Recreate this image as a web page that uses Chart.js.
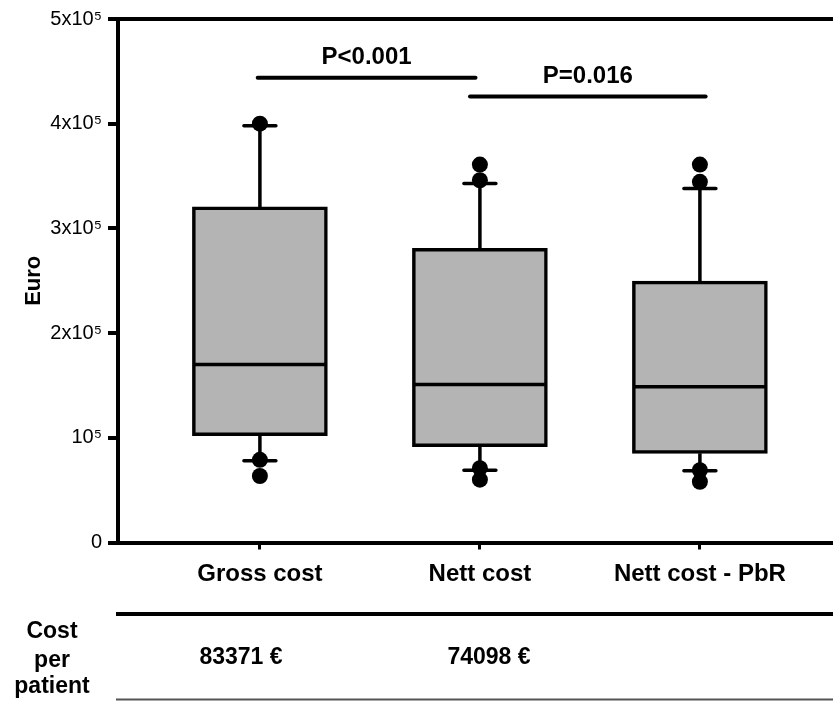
<!DOCTYPE html>
<html>
<head>
<meta charset="utf-8">
<script src="https://cdn.jsdelivr.net/npm/chart.js@4.4.1/dist/chart.umd.min.js"></script>
<style>
  html, body { margin: 0; padding: 0; background: #fff; }
  #wrap { width: 833px; height: 701px; position: relative; }
</style>
</head>
<body>
<div id="wrap"><canvas id="c" width="833" height="701"></canvas></div>
<script>
// ---- data ----
const categories = ['Gross cost', 'Nett cost', 'Nett cost - PbR'];
const q1 = [1.02e5, 0.915e5, 0.852e5];
const median = [1.70e5, 1.51e5, 1.488e5];
const q3 = [3.205e5, 2.81e5, 2.497e5];
const whiskerLow = [0.78e5, 0.69e5, 0.686e5];
const whiskerHigh = [3.98e5, 3.43e5, 3.38e5];
const outlierCat = [0, 0, 0, 1, 1, 1, 1, 2, 2, 2, 2];
const outlierVal = [4.0e5, 0.79e5, 0.635e5, 3.46e5, 3.61e5, 0.71e5, 0.60e5, 3.445e5, 3.61e5, 0.69e5, 0.58e5];
const yTickValues = [0, 1e5, 2e5, 3e5, 4e5, 5e5];
const yTickLabels = ['0', '10⁵', '2x10⁵', '3x10⁵', '4x10⁵', '5x10⁵'];
const sigText = ['P<0.001', 'P=0.016'];
const sigFrom = [-0.01, 0.955];
const sigTo = [0.98, 2.026];
const sigLevel = [4.44e5, 4.26e5];
const tableRowLabel = ['Cost', 'per', 'patient'];
const costPerPatient = ['83371 €', '74098 €'];

const FONT = '"Liberation Sans", Arial, Helvetica, sans-serif';
Chart.defaults.font.family = FONT;
Chart.defaults.color = '#000';

const boxPlugin = {
  id: 'boxParts',
  afterDatasetDraw(chart, args) {
    if (args.index !== 0) return;
    const ctx = chart.ctx, xs = chart.scales.x, ys = chart.scales.y;
    ctx.save();
    ctx.strokeStyle = '#000';
    categories.forEach((c, i) => {
      const x = xs.getPixelForValue(i);
      const half = 135 / 2;
      // whiskers
      ctx.lineCap = 'butt';
      ctx.lineWidth = 3.5;
      ctx.beginPath();
      ctx.moveTo(x, ys.getPixelForValue(q3[i]));
      ctx.lineTo(x, ys.getPixelForValue(whiskerHigh[i]));
      ctx.moveTo(x, ys.getPixelForValue(q1[i]));
      ctx.lineTo(x, ys.getPixelForValue(whiskerLow[i]));
      ctx.stroke();
      // caps
      ctx.lineCap = 'round';
      ctx.beginPath();
      ctx.moveTo(x - 16, ys.getPixelForValue(whiskerHigh[i]));
      ctx.lineTo(x + 16, ys.getPixelForValue(whiskerHigh[i]));
      ctx.moveTo(x - 16, ys.getPixelForValue(whiskerLow[i]));
      ctx.lineTo(x + 16, ys.getPixelForValue(whiskerLow[i]));
      ctx.stroke();
      // median
      ctx.lineCap = 'butt';
      ctx.beginPath();
      ctx.moveTo(x - half + 2, ys.getPixelForValue(median[i]));
      ctx.lineTo(x + half - 2, ys.getPixelForValue(median[i]));
      ctx.stroke();
    });
    ctx.restore();
  }
};

const annotPlugin = {
  id: 'annot',
  afterDraw(chart) {
    const ctx = chart.ctx, xs = chart.scales.x, ys = chart.scales.y;
    const area = chart.chartArea;
    ctx.save();
    // significance bars
    ctx.strokeStyle = '#000';
    ctx.fillStyle = '#000';
    ctx.lineWidth = 4;
    ctx.lineCap = 'round';
    ctx.font = 'bold 24px ' + FONT;
    ctx.textAlign = 'center';
    ctx.textBaseline = 'middle';
    sigText.forEach((t, i) => {
      const x0 = xs.getPixelForValue(sigFrom[i]);
      const x1 = xs.getPixelForValue(sigTo[i]);
      const y = ys.getPixelForValue(sigLevel[i]);
      ctx.beginPath();
      ctx.moveTo(x0, y);
      ctx.lineTo(x1, y);
      ctx.stroke();
      ctx.fillText(t, (x0 + x1) / 2, y - 20);
    });
    // table below the chart
    ctx.lineCap = 'butt';
    ctx.lineWidth = 4;
    ctx.beginPath();
    ctx.moveTo(area.left - 2, 614);
    ctx.lineTo(chart.width, 614);
    ctx.stroke();
    ctx.strokeStyle = '#555';
    ctx.lineWidth = 2;
    ctx.beginPath();
    ctx.moveTo(area.left - 2, 699.5);
    ctx.lineTo(chart.width, 699.5);
    ctx.stroke();
    ctx.font = 'bold 23px ' + FONT;
    const rowY = [632, 661, 687];
    tableRowLabel.forEach((t, i) => ctx.fillText(t, 52, rowY[i]));
    const valX = [241, 489];
    costPerPatient.forEach((t, i) => ctx.fillText(t, valX[i], 658));
    ctx.restore();
  }
};

new Chart(document.getElementById('c'), {
  type: 'bar',
  data: {
    datasets: [
      {
        type: 'bar',
        order: 2,
        data: categories.map((c, i) => ({ x: i, y: [q1[i], q3[i]] })),
        backgroundColor: '#b4b4b4',
        borderColor: '#000',
        borderWidth: 3.5,
        borderSkipped: false,
        barThickness: 135
      },
      {
        type: 'scatter',
        order: 1,
        data: outlierVal.map((v, i) => ({ x: outlierCat[i], y: v })),
        backgroundColor: '#000',
        borderWidth: 0,
        pointRadius: 8
      }
    ]
  },
  options: {
    responsive: false,
    animation: false,
    events: [],
    layout: { autoPadding: false, padding: { top: 19, right: 0, left: 0, bottom: 0 } },
    plugins: { legend: { display: false }, tooltip: { enabled: false } },
    scales: {
      x: {
        type: 'linear',
        min: -0.645,
        max: 2.605,
        offset: false,
        afterBuildTicks(scale) { scale.ticks = categories.map((c, i) => ({ value: i })); },
        afterFit(scale) {
          scale.height = 701 - 542.5;
          scale.paddingLeft = 0;
          scale.paddingRight = 0;
        },
        ticks: {
          callback: (v) => categories[v],
          font: { size: 24, weight: 'bold' },
          color: '#000',
          padding: 10,
          maxRotation: 0,
          autoSkip: false
        },
        grid: {
          drawOnChartArea: false,
          offset: false,
          color: '#000',
          tickColor: '#000',
          tickLength: 7,
          tickWidth: 3
        },
        border: { display: true, color: '#000', width: 4 }
      },
      y: {
        type: 'linear',
        min: 0,
        max: 5e5,
        afterBuildTicks(scale) { scale.ticks = yTickValues.map(v => ({ value: v })); },
        afterFit(scale) { scale.width = 118; },
        ticks: {
          callback: (v) => yTickLabels[yTickValues.indexOf(v)],
          font: { size: 20 },
          color: '#000',
          padding: 6
        },
        grid: {
          color: (ctx) => (ctx.tick && ctx.tick.value === 5e5 ? '#000' : 'rgba(0,0,0,0)'),
          lineWidth: 4,
          tickColor: '#000',
          tickLength: 10,
          tickWidth: 4
        },
        border: { display: true, color: '#000', width: 4 },
        title: {
          display: true,
          text: 'Euro',
          font: { size: 22, weight: 'bold' },
          color: '#000',
          padding: { top: 21, bottom: 0 }
        }
      }
    }
  },
  plugins: [boxPlugin, annotPlugin]
});
</script>
</body>
</html>
